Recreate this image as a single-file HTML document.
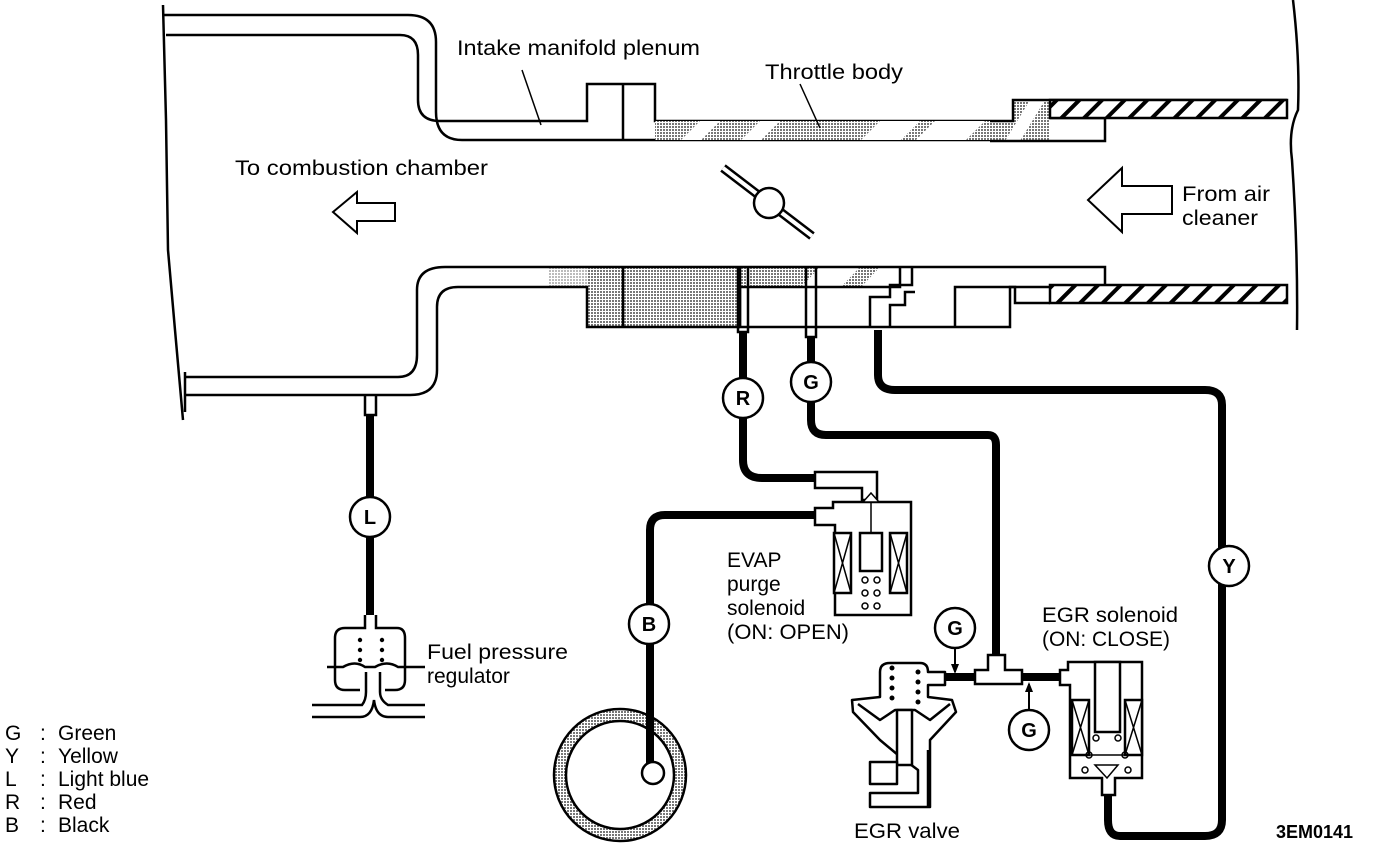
<!DOCTYPE html>
<html><head><meta charset="utf-8"><style>
html,body{margin:0;padding:0;background:#fff}
svg{display:block}
text{font-family:"Liberation Sans",Arial,sans-serif;fill:#000}
</style></head><body>
<svg width="1392" height="850" viewBox="0 0 1392 850" xmlns="http://www.w3.org/2000/svg">
<defs>
<pattern id="dots" width="3" height="3" patternUnits="userSpaceOnUse"><rect width="3" height="3" fill="#fff"/><rect width="2" height="2" fill="#777"/></pattern>
<pattern id="hatch" width="16" height="16" patternUnits="userSpaceOnUse" patternTransform="rotate(45)"><rect width="16" height="16" fill="#fff"/><rect width="4" height="16" fill="#000"/></pattern>
</defs>
<g fill="none" stroke="#000" stroke-width="2.5">
<path d="M163 5 L166 120 L168 250 L175 330 L183 420"/>
<path d="M163 15 L408 15 Q436 15 436 42 L436 112 Q436 140 462 140 L990 140"/>
<path d="M166 35 L400 35 Q418 35 418 55 L418 100 Q418 121 440 121 L587 121 L587 84 L655 84 L655 121 L1013 121"/>
<line x1="623" y1="84" x2="623" y2="140"/>
</g>
<rect x="655" y="121" width="358" height="19" fill="url(#dots)"/>
<rect x="990" y="100" width="60" height="41" fill="url(#dots)"/>
<g fill="#fff"><polygon points="700,121 720,121 701,140 681,140"/><polygon points="760,121 780,121 761,140 741,140"/><polygon points="880,121 920,121 901,140 861,140"/><polygon points="935,121 985,121 966,140 916,140"/><polygon points="990,121 1013,121 1013,100 990,100"/><polygon points="1030,100 1045,100 1020,141 1005,141"/></g>
<g fill="none" stroke="#000" stroke-width="2.5">
<path d="M990 121 L1013 121 L1013 100 L1287 100"/>
<path d="M1050 118 L1105 118 L1105 141 L990 141"/>
<path d="M1293 0 Q1300 60 1298 110 Q1288 130 1292 160 Q1298 250 1297 330"/>
</g>
<rect x="1050" y="100" width="237" height="18" fill="url(#hatch)" stroke="#000" stroke-width="2.5"/>
<rect x="587" y="267" width="153" height="60" fill="url(#dots)"/>
<rect x="740" y="267" width="160" height="20" fill="url(#dots)"/>
<g fill="#fff"><polygon points="820,267 860,267 841,287 801,287"/><polygon points="880,267 900,267 900,287 861,287"/><polygon points="548,287 560,267 575,267 563,287"/></g>
<rect x="548" y="267" width="39" height="20" fill="url(#dots)" opacity="0.5"/>
<g fill="none" stroke="#000" stroke-width="2.5">
<path d="M185 377 L398 377 Q417 377 417 355 L417 290 Q417 267 445 267 L1105 267 L1105 285"/>
<path d="M185 395 L410 395 Q437 395 437 370 L437 307 Q437 287 458 287 L587 287 L587 327 L740 327"/>
<line x1="185" y1="372" x2="185" y2="412"/>
<line x1="623" y1="267" x2="623" y2="327"/>
<path d="M740 327 L740 287 L900 287 L900 267"/>
<path d="M740 267 L740 327 L1010 327 L1010 287 L1050 287"/>
<path d="M870 327 L870 297 L890 297 L890 285 L912 285 L912 267 M890 327 L890 305 L905 305 L905 292 L915 292"/>
<path d="M955 327 L955 287 L1012 287"/>
<path d="M1012 287 L1015 287 L1015 303 L1050 303"/>
<path d="M738 267 L738 332 L748 332 L748 267 M806 267 L806 337 L816 337 L816 267"/>
<path d="M365 395 L365 415 L376 415 L376 395"/>
</g>
<rect x="1050" y="285" width="237" height="18" fill="url(#hatch)" stroke="#000" stroke-width="2.5"/>
<polygon points="333,212 357,192 357,203 395,203 395,221 357,221 357,233" fill="#fff" stroke="#000" stroke-width="2"/>
<polygon points="1088,200 1122,168 1122,186 1172,186 1172,214 1122,214 1122,232" fill="#fff" stroke="#000" stroke-width="2"/>
<line x1="723" y1="168" x2="812" y2="236" stroke="#000" stroke-width="9"/>
<line x1="723" y1="168" x2="812" y2="236" stroke="#fff" stroke-width="4"/>
<circle cx="769" cy="203" r="15" fill="#fff" stroke="#000" stroke-width="2.5"/>
<line x1="522" y1="70" x2="541" y2="125" stroke="#000" stroke-width="1.5"/>
<line x1="800" y1="84" x2="820" y2="128" stroke="#000" stroke-width="1.5"/>
<g fill="none" stroke="#000" stroke-width="8" stroke-linejoin="round">
<path d="M370 415 L370 615"/>
<path d="M743 332 L743 460 Q743 478 762 478 L815 478"/>
<path d="M811 337 L811 420 Q811 435 826 435 L988 435 Q996 435 996 445 L996 660"/>
<path d="M878 330 L878 375 Q878 390 895 390 L1205 390 Q1222 390 1222 405 L1222 820 Q1222 836 1205 836 L1120 836 Q1108 836 1108 820 L1108 790"/>
<path d="M815 515 L665 515 Q650 515 650 530 L650 765"/>
<path d="M945 677 L975 677 M1022 677 L1060 677"/>
</g>
<g stroke="#000" stroke-width="2.5" fill="#fff">
<circle cx="743" cy="398" r="20"/><circle cx="811" cy="382" r="20"/>
<circle cx="370" cy="517" r="20"/><circle cx="649" cy="624" r="20"/>
<circle cx="1229" cy="566" r="20"/><circle cx="955" cy="628" r="20"/>
<circle cx="1029" cy="730" r="20"/>
</g>
<g font-weight="bold" font-size="20" text-anchor="middle">
<text x="743" y="405">R</text><text x="811" y="389">G</text><text x="370" y="524">L</text>
<text x="649" y="631">B</text><text x="1229" y="573">Y</text><text x="955" y="635">G</text><text x="1029" y="737">G</text>
</g>
<g fill="#fff" stroke="#000" stroke-width="2.5">
<path d="M815 472 L877 472 L877 500 L862 500 L862 488 L815 488 Z"/>
<path d="M815 508 L833 508 L833 502 L911 502 L911 615 L835 615 L835 525 L815 525 Z"/>
<rect x="834" y="533" width="17" height="60"/><rect x="890" y="533" width="17" height="60"/>
<rect x="860" y="533" width="22" height="38"/>
</g>
<g stroke="#000" stroke-width="1.5" fill="none">
<path d="M834 533 L851 593 M851 533 L834 593 M890 533 L907 593 M907 533 L890 593 M871 502 L871 533"/>
<polygon points="863,502 871,493 879,502" fill="#fff"/>
<circle cx="865" cy="580" r="3"/><circle cx="877" cy="580" r="3"/><circle cx="865" cy="593" r="3"/><circle cx="877" cy="593" r="3"/><circle cx="865" cy="606" r="3"/><circle cx="877" cy="606" r="3"/>
</g>
<path d="M975 670 L988 670 L988 655 L1005 655 L1005 670 L1022 670 L1022 684 L975 684 Z" fill="#fff" stroke="#000" stroke-width="2.5"/>
<line x1="955" y1="648" x2="955" y2="672" stroke="#000" stroke-width="2"/><polygon points="951,664 959,664 955,674"/>
<line x1="1029" y1="710" x2="1029" y2="684" stroke="#000" stroke-width="2"/><polygon points="1025,692 1033,692 1029,682"/>
<g fill="#fff" stroke="#000" stroke-width="2.5" stroke-linejoin="round">
<path d="M880 672 Q880 663 890 663 L920 663 Q928 663 928 672 L945 672 L945 685 L928 685 L928 697 L952 700 L956 712 L930 740 L930 807 L870 807 L870 793 L918 793 L918 770 L898 755 L880 740 L853 712 L852 700 L880 697 Z"/>
<path d="M858 704 L880 720 L895 710 L915 710 L930 720 L950 704"/>
<rect x="897" y="710" width="15" height="55"/>
<rect x="870" y="762" width="27" height="22"/>
<line x1="928" y1="750" x2="928" y2="807"/>
</g>
<g fill="#000"><circle cx="892" cy="668" r="2.5"/><circle cx="892" cy="678" r="2.5"/><circle cx="892" cy="688" r="2.5"/><circle cx="892" cy="698" r="2.5"/><circle cx="918" cy="672" r="2.5"/><circle cx="918" cy="682" r="2.5"/><circle cx="918" cy="692" r="2.5"/><circle cx="918" cy="702" r="2.5"/></g>
<g fill="#fff" stroke="#000" stroke-width="2.5">
<path d="M1060 670 L1068 670 L1068 662 L1142 662 L1142 778 L1115 778 L1115 795 L1102 795 L1102 778 L1070 778 L1070 685 L1060 685 Z"/>
<rect x="1072" y="700" width="17" height="55"/><rect x="1125" y="700" width="17" height="55"/>
<rect x="1095" y="662" width="25" height="70"/>
</g>
<g stroke="#000" stroke-width="1.5" fill="none">
<path d="M1072 700 L1089 755 M1089 700 L1072 755 M1125 700 L1142 755 M1142 700 L1125 755 M1070 755 L1142 755"/>
<polygon points="1095,765 1118,765 1107,778"/>
<circle cx="1096" cy="738" r="3"/><circle cx="1118" cy="738" r="3"/><circle cx="1089" cy="755" r="3"/><circle cx="1125" cy="755" r="3"/><circle cx="1085" cy="770" r="3"/><circle cx="1128" cy="770" r="3"/>
</g>
<g fill="none" stroke="#000" stroke-width="2.5">
<path d="M365 615 L365 628 L345 628 Q335 628 335 638 L335 680 Q335 690 345 690 L360 690 M376 615 L376 628 L397 628 Q405 628 405 638 L405 680 Q405 690 395 690 L385 690"/>
<path d="M327 667 L343 667 Q355 660 365 667 L375 667 Q387 660 398 667 L425 667"/>
<path d="M312 705 L362 705 Q366 700 366 692 L366 672 M380 672 L380 692 Q380 700 388 705 L425 705"/>
<path d="M312 717 L360 717 Q372 717 374 700 Q376 717 388 717 L425 717"/>
</g>
<g fill="#000"><circle cx="360" cy="640" r="2.2"/><circle cx="360" cy="650" r="2.2"/><circle cx="360" cy="660" r="2.2"/><circle cx="382" cy="640" r="2.2"/><circle cx="382" cy="650" r="2.2"/><circle cx="382" cy="660" r="2.2"/></g>
<circle cx="620" cy="775" r="66" fill="url(#dots)" stroke="#000" stroke-width="2.5"/>
<circle cx="620" cy="775" r="54" fill="#fff" stroke="#000" stroke-width="2.5"/>
<line x1="650" y1="700" x2="650" y2="765" stroke="#000" stroke-width="8"/>
<circle cx="653" cy="773" r="11" fill="#fff" stroke="#000" stroke-width="2.5"/>
<g font-size="21">
<text x="457" y="55" textLength="243" lengthAdjust="spacingAndGlyphs">Intake manifold plenum</text>
<text x="765" y="79" textLength="138" lengthAdjust="spacingAndGlyphs">Throttle body</text>
<text x="235" y="175" textLength="253" lengthAdjust="spacingAndGlyphs">To combustion chamber</text>
<text x="1182" y="201" textLength="88" lengthAdjust="spacingAndGlyphs">From air</text>
<text x="1182" y="225" textLength="76" lengthAdjust="spacingAndGlyphs">cleaner</text>
<text x="727" y="567">EVAP</text>
<text x="727" y="591">purge</text>
<text x="727" y="615">solenoid</text>
<text x="727" y="639" textLength="122" lengthAdjust="spacingAndGlyphs">(ON: OPEN)</text>
<text x="1042" y="622" textLength="136" lengthAdjust="spacingAndGlyphs">EGR solenoid</text>
<text x="1042" y="646" textLength="128" lengthAdjust="spacingAndGlyphs">(ON: CLOSE)</text>
<text x="427" y="659" textLength="141" lengthAdjust="spacingAndGlyphs">Fuel pressure</text>
<text x="427" y="683">regulator</text>
<text x="854" y="838" textLength="106" lengthAdjust="spacingAndGlyphs">EGR valve</text>
<text x="5" y="740">G</text><text x="40" y="740">:</text><text x="58" y="740">Green</text>
<text x="5" y="763">Y</text><text x="40" y="763">:</text><text x="58" y="763">Yellow</text>
<text x="5" y="786">L</text><text x="40" y="786">:</text><text x="58" y="786">Light blue</text>
<text x="5" y="809">R</text><text x="40" y="809">:</text><text x="58" y="809">Red</text>
<text x="5" y="832">B</text><text x="40" y="832">:</text><text x="58" y="832">Black</text>
<text x="1276" y="838" font-weight="bold" font-size="18">3EM0141</text>
</g>
</svg>
</body></html>
